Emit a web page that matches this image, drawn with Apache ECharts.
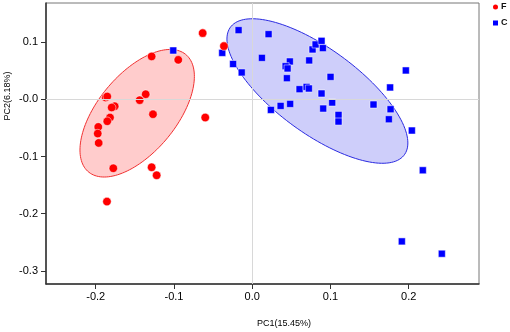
<!DOCTYPE html>
<html>
<head>
<meta charset="UTF-8">
<title></title>
<script src="https://cdn.jsdelivr.net/npm/echarts@6/dist/echarts.min.js"></script>
<style>html,body{margin:0;padding:0;background:#fff;}</style>
</head>
<body>
<div id="echartsDom" style="width:510px;height:332px;"></div>
<script>
// PCA scores
var groupF = [
	[-0.0633, 0.1154], [-0.0361, 0.0927], [-0.0945, 0.0687], [-0.1285, 0.0747],
	[-0.1361, 0.0087], [-0.1438, -0.0017], [-0.1268, -0.0262], [-0.0600, -0.0320],
	[-0.1872, 0.0030], [-0.1852, 0.0047], [-0.1757, -0.0122], [-0.1796, -0.0145],
	[-0.1817, -0.0320], [-0.1852, -0.0385], [-0.1967, -0.0484], [-0.1974, -0.0600],
	[-0.1962, -0.0764], [-0.1775, -0.1206], [-0.1285, -0.1189], [-0.1221, -0.1329],
	[-0.1856, -0.1788]
];
var groupC = [
	[-0.1009, 0.0851], [-0.0383, 0.0809], [-0.0174, 0.1206], [-0.0244, 0.0615],
	[-0.0134, 0.0467], [0.0209, 0.1136], [0.0124, 0.0722], [0.0481, 0.0659],
	[0.0427, 0.0577], [0.0452, 0.0537], [0.0443, 0.0367], [0.0728, 0.0677],
	[0.0771, 0.0869], [0.0810, 0.0956], [0.0886, 0.1019], [0.0903, 0.0892],
	[0.1001, 0.0390], [0.0605, 0.0175], [0.0695, 0.0215], [0.0724, 0.0187],
	[0.0886, 0.0100], [0.0239, -0.0187], [0.0363, -0.0117], [0.0485, -0.0082],
	[0.0907, -0.0163], [0.1022, -0.0058], [0.1103, -0.0274], [0.1103, -0.0390],
	[0.1550, -0.0093], [0.1762, 0.0205], [0.1768, -0.0175], [0.1746, -0.0350],
	[0.1963, 0.0502], [0.2040, -0.0547], [0.2180, -0.1241], [0.1912, -0.2483],
	[0.2423, -0.2698]
];
// confidence ellipses: centre x, centre y, half width, half height, correlation
var ellipseF = [-0.1470, -0.0245, 0.0731, 0.1114, 0.577];
var ellipseC = [0.0833, 0.0143, 0.1156, 0.1262, -0.719];
var xTicks = [-0.2, -0.1, 0, 0.1, 0.2];
var yTicks = [-0.3, -0.2, -0.1, 0, 0.1];

function ellipseRenderer(fill, stroke) {
	return function(params, api) {
		var cx = api.value(0), cy = api.value(1);
		var rx = api.value(2), ry = api.value(3), rho = api.value(4);
		var s = Math.sqrt(1 - rho * rho);
		var pts = [];
		for(var i = 0; i < 144; i++) {
			var t = i / 144 * Math.PI * 2;
			pts.push(api.coord([cx + rx * Math.cos(t), cy + ry * (rho * Math.cos(t) + s * Math.sin(t))]));
		}
		return {
			type: 'polygon',
			shape: { points: pts },
			style: { fill: fill, stroke: stroke, lineWidth: 1 }
		};
	};
}

var font = 'Liberation Sans, Arial, sans-serif';
var myChart = echarts.init(document.getElementById('echartsDom'));
var option = {
	animation: false,
	legend: {
		data: ['F', 'C'],
		orient: 'vertical',
		left: 491,
		top: 2,
		padding: 0,
		itemWidth: 7,
		itemHeight: 7,
		itemGap: 6,
		textStyle: { fontSize: 9, fontWeight: 'bold', lineHeight: 10, color: '#111', fontFamily: font, padding: [0, 0, 0, -3] }
	},
	grid: {
		left: 46, top: 3, right: 31, bottom: 48,
		show: true, borderColor: '#777', borderWidth: 1
	},
	xAxis: {
		type: 'value',
		min: -0.2635, max: 0.2898,
		axisLine: { onZero: false, lineStyle: { color: '#333', width: 1.5 } },
		axisTick: { length: 5, customValues: xTicks, lineStyle: { color: '#333' } },
		axisLabel: { customValues: xTicks, margin: 7, color: '#000', fontSize: 11, fontFamily: font,
			formatter: function(v) { return v.toFixed(1); } },
		splitLine: { show: false }
	},
	yAxis: {
		type: 'value',
		min: -0.3227, max: 0.168,
		axisLine: { show: true, onZero: false, lineStyle: { color: '#333', width: 1.5 } },
		axisTick: { show: true, length: 5, customValues: yTicks, lineStyle: { color: '#333' } },
		axisLabel: { customValues: yTicks, margin: 8, color: '#000', fontSize: 11, fontFamily: font,
			formatter: function(v) { return v === 0 ? '-0.0' : v.toFixed(1); } },
		splitLine: { show: false }
	},
	graphic: [
		{ type: 'text', x: 284, y: 324, style: { text: 'PC1(15.45%)', fontSize: 9, fontFamily: font, fill: '#000', align: 'center', verticalAlign: 'middle' } },
		{ type: 'text', x: 8, y: 96, rotation: Math.PI / 2, style: { text: 'PC2(6.18%)', fontSize: 9, fontFamily: font, fill: '#000', align: 'center', verticalAlign: 'middle' } }
	],
	series: [
		{
			type: 'scatter', data: [], z: 1, silent: true,
			markLine: {
				silent: true, symbol: 'none', label: { show: false },
				lineStyle: { color: '#d8d8d8', type: 'solid', width: 1 },
				data: [{ xAxis: 0 }, { yAxis: 0 }]
			}
		},
		{ type: 'custom', z: 2, data: [ellipseF], renderItem: ellipseRenderer('rgba(255,0,0,0.2)', '#f03030') },
		{ type: 'custom', z: 2, data: [ellipseC], renderItem: ellipseRenderer('rgba(30,30,230,0.22)', '#2a2ae0') },
		{
			name: 'C', type: 'scatter', z: 3, data: groupC,
			symbol: 'rect', symbolSize: 7,
			itemStyle: { color: '#0000ff', borderColor: '#fff', borderWidth: 0.5, opacity: 1 }
		},
		{
			name: 'F', type: 'scatter', z: 4, data: groupF,
			symbol: 'circle', symbolSize: 8.5,
			itemStyle: { color: '#ff0000', borderColor: '#fff', borderWidth: 0.5, opacity: 1 }
		}
	]
};
myChart.setOption(option);
</script>
</body>
</html>
